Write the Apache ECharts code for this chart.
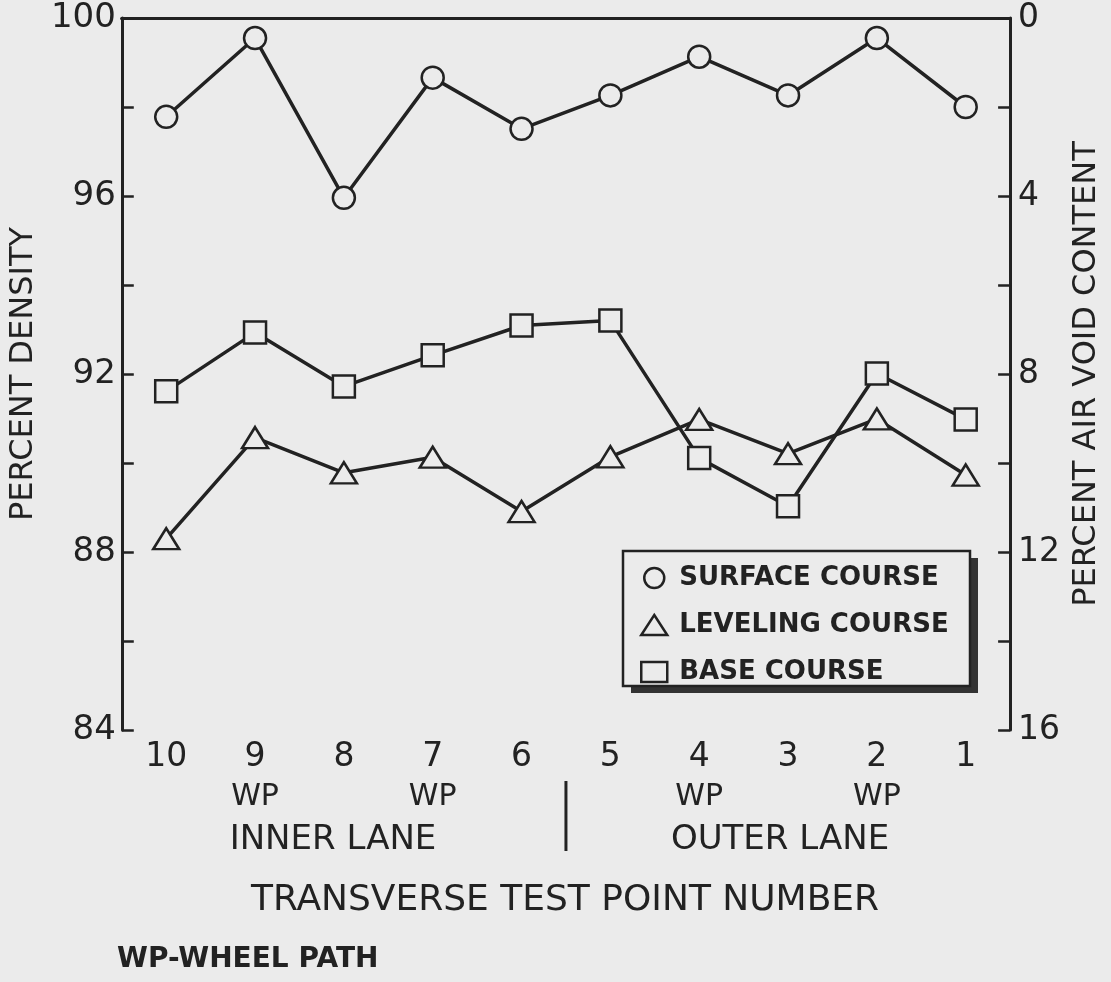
<!DOCTYPE html>
<html>
<head>
<meta charset="utf-8">
<script src="https://cdn.jsdelivr.net/npm/echarts@6/dist/echarts.min.js"></script>
<style>
  html, body { margin: 0; padding: 0; background: #ebebeb; }
  #chart { width: 1111px; height: 982px; }
</style>
</head>
<body>
<div id="chart"></div>
<script>
// ---- data ----
const categories = ['10', '9', '8', '7', '6', '5', '4', '3', '2', '1'];
const surfaceCourse  = [97.78, 99.55, 95.96, 98.66, 97.51, 98.26, 99.13, 98.26, 99.55, 98.00];
const levelingCourse = [88.30, 90.57, 89.78, 90.13, 88.91, 90.14, 90.98, 90.21, 90.99, 89.73];
const baseCourse     = [91.61, 92.93, 91.72, 92.42, 93.09, 93.20, 90.11, 89.03, 92.01, 90.98];
const wheelPathPoints = ['9', '7', '4', '2'];
const seriesNames = ['SURFACE COURSE', 'LEVELING COURSE', 'BASE COURSE'];

const ink = '#222222';
const bg = '#ebebeb';
const font = 'DejaVu Sans';

const chart = echarts.init(document.getElementById('chart'), null, { renderer: 'canvas' });

function markerSeries(name, data, symbol, size) {
  return {
    name: name,
    type: 'line',
    xAxisIndex: 0,
    yAxisIndex: 0,
    data: data,
    symbol: symbol,
    symbolSize: size,
    showAllSymbol: true,
    lineStyle: { color: ink, width: 3.5 },
    itemStyle: { color: bg, borderColor: ink, borderWidth: 2.5 },
    emphasis: { disabled: true },
    z: 3
  };
}

const option = {
  backgroundColor: bg,
  animation: false,
  grid: { left: 117, right: 96, top: 18, bottom: 252 },
  xAxis: [
    {
      type: 'category',
      data: categories,
      position: 'bottom',
      boundaryGap: true,
      axisLine: { lineStyle: { color: ink, width: 3 } },
      axisTick: { inside: true, length: 12, alignWithLabel: true, lineStyle: { color: ink, width: 2.5 } },
      axisLabel: {
        margin: 7,
        color: ink,
        fontFamily: font,
        formatter: function (v) {
          return wheelPathPoints.indexOf(v) >= 0 ? '{n|' + v + '}\n{wp|WP}' : '{n|' + v + '}';
        },
        rich: {
          n: { fontSize: 33, lineHeight: 40, fontFamily: font, color: ink },
          wp: { fontSize: 30, lineHeight: 40, fontFamily: font, color: ink }
        }
      },
      splitLine: { show: false }
    },
    {
      type: 'category',
      data: categories,
      position: 'top',
      boundaryGap: true,
      axisLine: { lineStyle: { color: ink, width: 3 } },
      axisTick: { inside: true, length: 14, alignWithLabel: true, lineStyle: { color: ink, width: 2.5 } },
      axisLabel: { show: false },
      splitLine: { show: false }
    }
  ],
  yAxis: [
    {
      type: 'value',
      position: 'left',
      min: 84, max: 100, interval: 2,
      axisLine: { show: true, lineStyle: { color: ink, width: 3 } },
      axisTick: { show: true, inside: true, length: 12, lineStyle: { color: ink, width: 2.5 } },
      axisLabel: {
        margin: 6, color: ink, fontFamily: font, fontSize: 34,
        formatter: function (v) { return v % 4 === 0 ? String(v) : ''; }
      },
      splitLine: { show: false },
      name: 'PERCENT DENSITY',
      nameLocation: 'middle',
      nameRotate: 90,
      nameGap: 80,
      nameTextStyle: { fontFamily: font, fontSize: 32, color: ink }
    },
    {
      type: 'value',
      position: 'right',
      inverse: true,
      min: 0, max: 16, interval: 2,
      axisLine: { show: true, lineStyle: { color: ink, width: 3 } },
      axisTick: { show: true, inside: true, length: 12, lineStyle: { color: ink, width: 2.5 } },
      axisLabel: {
        margin: 8, color: ink, fontFamily: font, fontSize: 33,
        formatter: function (v) { return v % 4 === 0 ? String(v) : ''; }
      },
      splitLine: { show: false },
      name: 'PERCENT AIR VOID CONTENT',
      nameLocation: 'middle',
      nameRotate: 90,
      nameGap: 56,
      nameTextStyle: { fontFamily: font, fontSize: 32, color: ink }
    }
  ],
  legend: {
    orient: 'vertical',
    left: 623,
    top: 551,
    padding: [14, 17, 12, 17],
    itemGap: 21,
    itemWidth: 26,
    itemHeight: 20,
    z: 10,
    selectedMode: false,
    itemStyle: { color: bg, borderColor: ink, borderWidth: 2.5 },
    textStyle: { fontFamily: font, fontWeight: 'bold', fontSize: 26, color: ink, lineHeight: 24, padding: [0, 0, 0, 7] },
    data: [
      { name: seriesNames[0], icon: 'circle' },
      { name: seriesNames[1], icon: 'triangle' },
      { name: seriesNames[2], icon: 'rect' }
    ]
  },
  series: [
    markerSeries(seriesNames[0], surfaceCourse, 'circle', 22),
    markerSeries(seriesNames[1], levelingCourse, 'triangle', [26, 21]),
    markerSeries(seriesNames[2], baseCourse, 'rect', 22)
  ]
};

chart.setOption(option);

// lane divider sits midway between test points 6 and 5
const x6 = chart.convertToPixel({ xAxisIndex: 0 }, '6');
const x5 = chart.convertToPixel({ xAxisIndex: 0 }, '5');
const xDiv = (x6 + x5) / 2;

chart.setOption({
  graphic: [
    // legend frame with its drop shadow
    { type: 'rect', z: 8, shape: { x: 631, y: 558, width: 347, height: 135 }, style: { fill: '#333333' } },
    { type: 'rect', z: 9, shape: { x: 623, y: 551, width: 347, height: 135 }, style: { fill: bg, stroke: ink, lineWidth: 2.5 } },
    { type: 'line', shape: { x1: xDiv, y1: 781, x2: xDiv, y2: 851 }, style: { stroke: ink, lineWidth: 3 } },
    { type: 'text', x: 333, y: 840, style: { text: 'INNER LANE', fontFamily: font, fontSize: 34, fill: ink, align: 'center', verticalAlign: 'middle' } },
    { type: 'text', x: 780, y: 840, style: { text: 'OUTER LANE', fontFamily: font, fontSize: 34, fill: ink, align: 'center', verticalAlign: 'middle' } },
    { type: 'text', x: 565, y: 901, style: { text: 'TRANSVERSE TEST POINT NUMBER', fontFamily: font, fontSize: 36, fill: ink, align: 'center', verticalAlign: 'middle' } },
    { type: 'text', x: 117, y: 960, style: { text: 'WP-WHEEL PATH', fontFamily: font, fontWeight: 'bold', fontSize: 28, fill: ink, align: 'left', verticalAlign: 'middle' } }
  ]
});
</script>
</body>
</html>
